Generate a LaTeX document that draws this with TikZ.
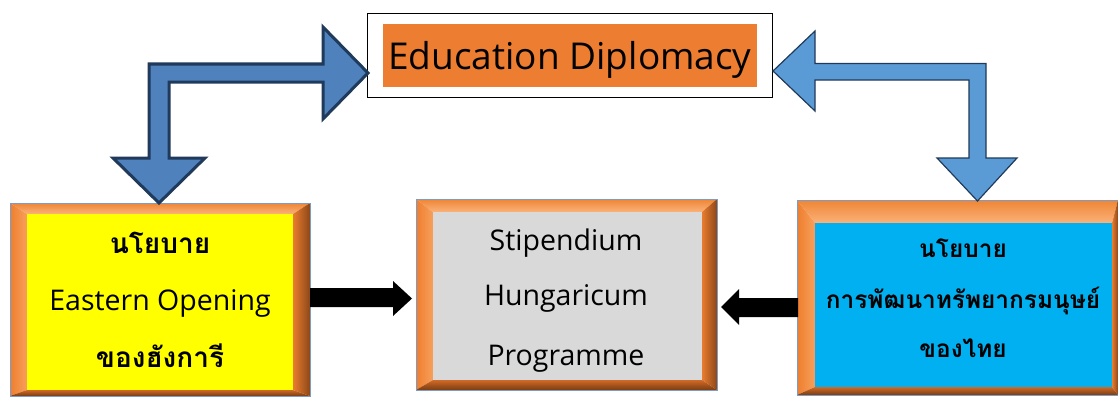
\documentclass[tikz,border=0pt]{standalone}
\usepackage{fontspec}
\setmainfont{Open Sans}
\newfontfamily\thaifont[Script=Thai]{Loma}
\usetikzlibrary{calc}
\definecolor{eduorange}{HTML}{ED7D31}
\definecolor{boxyellow}{HTML}{FFFF00}
\definecolor{boxgrey}{HTML}{D9D9D9}
\definecolor{boxcyan}{HTML}{00B0F0}
\definecolor{bvTopO}{HTML}{EF8534}
\definecolor{bvTopI}{HTML}{FAB27A}
\definecolor{bvLeftO}{HTML}{EE7E2E}
\definecolor{bvLeftI}{HTML}{F7A05C}
\definecolor{bvRightI}{HTML}{E97C2E}
\definecolor{bvRightO}{HTML}{8C4719}
\definecolor{bvBotI}{HTML}{CF6A26}
\definecolor{bvBotO}{HTML}{7A3C12}
\definecolor{frameblue}{HTML}{7C9CC8}
\definecolor{arrowA}{HTML}{4F81BD}
\definecolor{arrowB}{HTML}{5B9BD5}
\definecolor{arrowline}{HTML}{1F3A5A}
\newcommand\mybevel[9]{%
  \shade[top color=bvTopO, bottom color=bvTopI] (#1,#2) -- (#3,#2) -- (#7,#6) -- (#5,#6) -- cycle;
  \shade[left color=bvLeftO, right color=bvLeftI] (#1,#2) -- (#5,#6) -- (#5,#8) -- (#1,#4) -- cycle;
  \shade[left color=bvRightI, right color=bvRightO] (#3,#2) -- (#7,#6) -- (#7,#8) -- (#3,#4) -- cycle;
  \shade[top color=bvBotI, bottom color=bvBotO] (#1,#4) -- (#5,#8) -- (#7,#8) -- (#3,#4) -- cycle;
  \fill[#9] (#5,#6) rectangle (#7,#8);
  \draw[frameblue, line width=1pt] (#1,#2) rectangle (#3,#4);
}
\tikzset{
  thaibold/.style={anchor=base, font=\thaifont\bfseries\fontsize{28}{32}\selectfont},
  thaibolds/.style={anchor=base, font=\thaifont\bfseries\fontsize{24.4}{29}\selectfont},
  latin/.style={anchor=base, font=\fontsize{28.5}{33}\selectfont},
  bentA/.style={fill=arrowA, draw=arrowline, line width=3pt, line join=miter},
  bentB/.style={fill=arrowB, draw=arrowline, line width=1.2pt, line join=miter},
  blockarrow/.style={fill=black},
}
\begin{document}
\begin{tikzpicture}[x=1pt,y=-1pt]
\useasboundingbox (0,0) rectangle (1118,396);
% top node
\node[draw=black, line width=0.8pt, fill=white, minimum width=405pt, minimum height=84pt, inner sep=0pt] (edu) at (569.5,55) {};
\node[fill=eduorange, minimum width=374pt, minimum height=63pt, inner sep=0pt] (edubox) at (570,55.5) {};
\node[anchor=base, font=\fontsize{37}{41}\selectfont] (edutext) at (570,70) {Education Diplomacy};
% left box
\mybevel{10}{203}{310}{396}{27}{214}{293}{390}{boxyellow}
\node[minimum width=266pt, minimum height=176pt, inner sep=0pt] (east) at (160,302) {};
\node[thaibold] (eastA) at (160,253) {นโยบาย};
\node[latin] (eastB) at (160,310) {Eastern Opening};
\node[thaibold] (eastC) at (160,367) {ของฮังการี};
% centre box
\mybevel{416}{199}{717}{390}{433}{212}{702}{380}{boxgrey}
\node[minimum width=269pt, minimum height=168pt, inner sep=0pt] (shp) at (567.5,296) {};
\node[latin] (shpA) at (566,250) {Stipendium};
\node[latin] (shpB) at (566,305) {Hungaricum};
\node[latin] (shpC) at (566,365) {Programme};
% right box
\mybevel{797}{200}{1118}{395}{815}{223}{1112}{387}{boxcyan}
\node[minimum width=297pt, minimum height=164pt, inner sep=0pt] (thai) at (963.5,305) {};
\node[thaibolds] (thaiA) at (963,257) {นโยบาย};
\node[thaibolds] (thaiB) at (963,308) {การพัฒนาทรัพยากรมนุษย์};
\node[thaibolds] (thaiC) at (963,357) {ของไทย};
% bent arrows
\coordinate (tipL1) at (368,73);
\coordinate (tipL2) at (159,203);
\draw[bentA] (tipL2) -- (113,158) -- (149,158) -- (149,64) -- (323,64) -- (323,27) -- (tipL1) -- (323,119) -- (323,82) -- (169,82) -- (169,158) -- (205,158) -- cycle;
\coordinate (tipR1) at (773,71);
\coordinate (tipR2) at (977.5,201);
\draw[bentB] (tipR1) -- (815,31) -- (815,63.5) -- (986,63.5) -- (986,158) -- (1017,158) -- (tipR2) -- (937,158) -- (969,158) -- (969,80) -- (815,80) -- (815,111) -- cycle;
% black block arrows
\coordinate (tipM1) at (412,298.5);
\fill[blockarrow] (310,288) -- (393,288) -- (393,281) -- (tipM1) -- (393,316) -- (393,307) -- (310,307) -- cycle;
\coordinate (tipM2) at (721,307);
\fill[blockarrow] (798,298) -- (739,298) -- (739,289) -- (tipM2) -- (739,325) -- (739,317) -- (798,317) -- cycle;
\end{tikzpicture}
\end{document}
